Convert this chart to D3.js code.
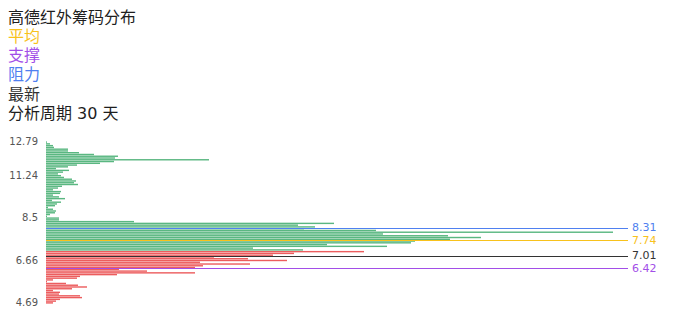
<!DOCTYPE html>
<html><head><meta charset="utf-8">
<script src="https://cdn.jsdelivr.net/npm/d3@7"></script>
<style>
body{margin:0;background:#fff}
text{font-family:"DejaVu Sans","Noto Sans CJK SC",sans-serif}
</style>
</head><body>
<svg id="c" width="696" height="320"></svg>
<script>
const title = "高德红外筹码分布";
const legendNames = ["平均", "支撑", "阻力", "最新"];
const periodText = "分析周期 30 天";

// price levels (bottom to top)
const prices = [
  4.69, 4.77, 4.85, 4.94, 5.02, 5.10, 5.18, 5.26, 5.35, 5.43, 5.51, 5.59, 5.68, 5.76, 5.84, 5.92,
  6.00, 6.09, 6.17, 6.25, 6.33, 6.41, 6.50, 6.58, 6.66, 6.73, 6.80, 6.87, 6.94, 7.01,
  7.09, 7.17, 7.25, 7.32, 7.40, 7.48, 7.56, 7.64, 7.72, 7.79, 7.87, 7.95, 8.03, 8.11, 8.19, 8.26, 8.34, 8.42, 8.5,
  8.61, 8.73, 8.84, 8.96, 9.07, 9.19, 9.30, 9.41, 9.53, 9.64, 9.76, 9.87, 9.98, 10.10, 10.21, 10.33, 10.44,
  10.56, 10.67, 10.78, 10.90, 11.01, 11.13, 11.24,
  11.32, 11.40, 11.48, 11.57, 11.65, 11.73, 11.81, 11.89, 11.97, 12.06, 12.14, 12.22, 12.30, 12.38, 12.46,
  12.55, 12.63, 12.71, 12.79
];
// chip share at each price level (%)
const chips = [
  0.07, 0.10, 0.14, 0.36, 0.34, 0.13, 0.14, 0.07, 0.26, 0.41, 0.32, 0.20, 0.01, 0.07, 0.31, 0.34,
  0.71, 1.49, 1.01, 0.73, 1.49, 1.57, 2.04, 1.54, 2.41, 2.02, 1.68, 2.27, 2.48, 3.18,
  2.57, 2.07, 3.41, 2.81, 3.65, 3.69, 4.04, 4.35, 4.02, 3.37, 5.67, 3.30, 2.58, 2.69, 2.52, 2.88, 0.88, 0.13, 0.13,
  0.01, 0.04, 0.09, 0.10, 0.07, 0.02, 0.09, 0.11, 0.15, 0.06, 0.19, 0.13, 0.07, 0.14, 0.15, 0.07,
  0.12, 0.16, 0.32, 0.28, 0.30, 0.26, 0.18,
  0.15, 0.12, 0.17, 0.23, 0.10, 0.22, 0.31, 0.54, 0.68, 1.63, 0.69, 0.72, 0.48, 0.33, 0.22,
  0.22, 0.08, 0.07, 0.04, 0.01
];
const tickPrices = [4.69, 6.66, 8.5, 11.24, 12.79];

const refNames = ["阻力", "平均", "最新", "支撑"];
const refValues = [8.31, 7.74, 7.01, 6.42];
const latestPrice = 7.01;

const colorOf = {"平均": "#f8c21c", "支撑": "#a24ee8", "阻力": "#4f80f0", "最新": "#333333"};

const svg = d3.select("#c");

// header texts
svg.append("text").attr("x", 8).attr("y", 17).attr("dominant-baseline", "central")
  .attr("font-size", 16).attr("fill", "#1e1e1e").text(title);
legendNames.forEach((n, i) => {
  svg.append("text").attr("x", 8).attr("y", 36.3 + i * 19.3).attr("dominant-baseline", "central")
    .attr("font-size", 16).attr("fill", colorOf[n]).text(n);
});
svg.append("text").attr("x", 8).attr("y", 113.3).attr("dominant-baseline", "central")
  .attr("font-size", 16).attr("fill", "#1e1e1e").text(periodText);

// scales
const y = d3.scaleBand().domain(prices).range([303.6, 141.4]).paddingInner(0.2).paddingOuter(0);
const x = d3.scaleLinear().domain([0, d3.max(chips)]).range([46, 613]);
const yRef = d3.scaleLinear().domain([4.69, 12.79]).range([304.9, 133.4]);

// bars
svg.append("g").selectAll("rect").data(prices).join("rect")
  .attr("x", x(0))
  .attr("y", p => y(p))
  .attr("height", y.bandwidth())
  .attr("width", (p, i) => x(chips[i]) - x(0))
  .attr("fill", p => p <= latestPrice ? "#e8393a" : "#36a765")
  .attr("fill-opacity", 0.82);

// axis
const ax = svg.append("g").attr("transform", `translate(${x(0)},0)`)
  .call(d3.axisLeft(y).tickValues(tickPrices).tickSize(0).tickPadding(8).tickFormat(d => String(d)));
ax.select(".domain").remove();
ax.selectAll("text").attr("font-size", 10).attr("fill", "#555")
  .style("font-family", '"DejaVu Sans", sans-serif');

// reference lines
const refs = refNames.map((n, i) => ({name: n, value: refValues[i], ly: yRef(refValues[i])}));
// keep the right-hand labels from colliding
const minGap = 13;
refs.sort((a, b) => a.ly - b.ly);
for (let k = 1; k < refs.length; k++) {
  const gap = refs[k].ly - refs[k - 1].ly;
  if (gap < minGap) {
    const push = (minGap - gap) / 2;
    refs[k - 1].ly -= push;
    refs[k].ly += push;
  }
}
const rg = svg.append("g");
rg.selectAll("line").data(refs).join("line")
  .attr("x1", x(0)).attr("x2", 628)
  .attr("y1", d => Math.round(yRef(d.value)) + 0.5)
  .attr("y2", d => Math.round(yRef(d.value)) + 0.5)
  .attr("stroke", d => colorOf[d.name]).attr("stroke-width", 1);
rg.selectAll("text").data(refs).join("text")
  .attr("x", 632).attr("y", d => d.ly).attr("dominant-baseline", "central")
  .attr("font-size", 11).attr("fill", d => colorOf[d.name])
  .text(d => d.value.toFixed(2));
</script>
</body></html>
